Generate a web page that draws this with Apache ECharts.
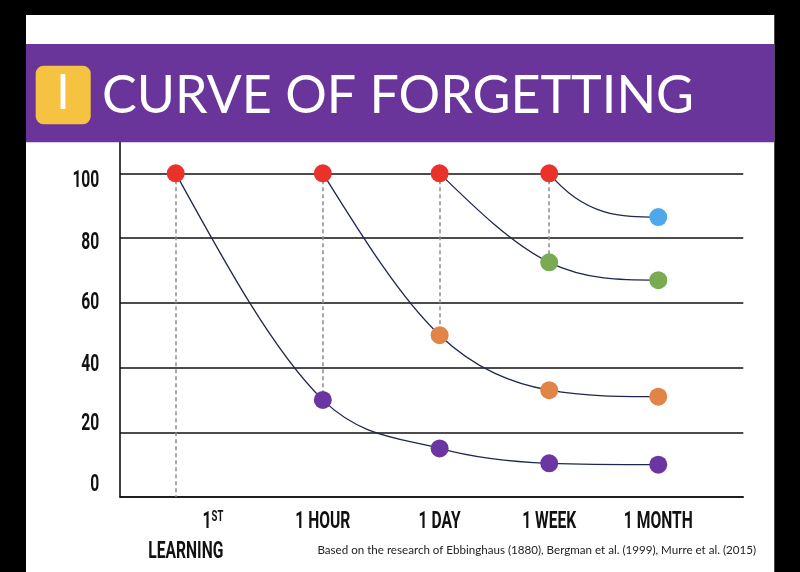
<!DOCTYPE html>
<html>
<head>
<meta charset="utf-8">
<title>Curve of Forgetting</title>
<style>
  html, body { margin: 0; padding: 0; background: #000; }
  #main { width: 800px; height: 572px; }
</style>
<script src="https://cdn.jsdelivr.net/npm/echarts@6/dist/echarts.min.js"></script>
</head>
<body>
<div id="main"></div>
<script>
// data
const timeLabels = ['1ST LEARNING', '1 HOUR', '1 DAY', '1 WEEK', '1 MONTH'];
// where each moment sits along the (non linear) time axis, 0-100
const timePos = [8.94, 32.54, 51.28, 68.86, 86.36];
const yTicks = [0, 20, 40, 60, 80, 100];

// recall (%) after each review, starting at the review moment
const purpleRecall = [100, 30, 15, 10.4, 10];
const orangeRecall = [100, 50, 33, 31];
const greenRecall = [100, 72.5, 67];
const blueRecall = [100, 86.5];
const curveStart = [0, 1, 2, 3];

// styling
const curveColors = ['#6b36a2', '#e08547', '#7aab52', '#4da9e9'];
const reviewColor = '#e8322a';
const labelFont = "Roboto, 'DejaVu Sans Condensed', sans-serif";
const labelScale = 0.68;   // squeeze the bold labels into a condensed look
// the tick labels in the picture drift a little from their gridlines
const yLabelShift = { 0: -12, 20: -8, 40: -2.6, 60: 0.7, 80: 5.5, 100: 8 };

const curves = [purpleRecall, orangeRecall, greenRecall, blueRecall].map((values, i) => ({
  values: values,
  start: curveStart[i],
  color: curveColors[i]
}));

var myChart = echarts.init(document.getElementById('main'));

// smooth decay curve through the points of one curve (monotone hermite -> bezier)
function renderCurve(params, api) {
  const c = curves[params.dataIndex];
  const pts = c.values.map((v, k) => api.coord([timePos[c.start + k], v]));
  const n = pts.length;
  const d = [];
  for (let k = 0; k < n - 1; k++) {
    d.push((pts[k + 1][1] - pts[k][1]) / (pts[k + 1][0] - pts[k][0]));
  }
  const m = new Array(n).fill(0);
  for (let k = 1; k < n - 1; k++) {
    m[k] = Math.min((d[k - 1] + d[k]) / 2, 3 * Math.min(d[k - 1], d[k]));
  }
  m[0] = n > 2 ? (3 * d[0] - m[1]) / 2 : 3 * d[0];
  const children = [];
  for (let k = 0; k < n - 1; k++) {
    const h = (pts[k + 1][0] - pts[k][0]) / 3;
    children.push({
      type: 'bezierCurve',
      shape: {
        x1: pts[k][0], y1: pts[k][1],
        cpx1: pts[k][0] + h, cpy1: pts[k][1] + m[k] * h,
        cpx2: pts[k + 1][0] - h, cpy2: pts[k + 1][1] - m[k + 1] * h,
        x2: pts[k + 1][0], y2: pts[k + 1][1]
      },
      style: { fill: null, stroke: '#1e2652', lineWidth: 1.3 }
    });
  }
  return { type: 'group', children: children };
}

// dashed drop from every review down to the curve it refreshes
const drops = curves.map((c, k) => {
  const x = timePos[c.start];
  let bottom = 0;
  if (k > 0) {
    const prev = curves[k - 1];
    bottom = prev.values[c.start - prev.start];
  }
  return [{ coord: [x, c.values[0]] }, { coord: [x, bottom] }];
});

const frame = [
  { type: 'rect', z: 100, shape: { x: 0, y: 0, width: 800, height: 15 }, style: { fill: '#000' } },
  { type: 'rect', z: 100, shape: { x: 0, y: 0, width: 26, height: 572 }, style: { fill: '#000' } },
  { type: 'rect', z: 100, shape: { x: 774.3, y: 0, width: 26, height: 572 }, style: { fill: '#000' } },
  { type: 'rect', z: 100, shape: { x: 26, y: 44, width: 748.3, height: 98.3 }, style: { fill: '#69359a' } },
  { type: 'rect', z: 101, shape: { x: 35.7, y: 65.7, width: 55, height: 58.6, r: 8 }, style: { fill: '#f5c242' } },
  {
    type: 'text', z: 102, x: 63, y: 94,
    style: { text: 'I', fill: '#fff', font: "48px Lato, 'Open Sans', sans-serif", align: 'center', verticalAlign: 'middle' }
  },
  {
    type: 'text', z: 102, x: 102, y: 96,
    style: { text: 'CURVE OF FORGETTING', fill: '#fff', font: "52px Lato, 'Open Sans', sans-serif", align: 'left', verticalAlign: 'middle' }
  },
  {
    type: 'text', z: 102, x: 756, y: 550,
    style: {
      text: 'Based on the research of Ebbinghaus (1880), Bergman et al. (1999), Murre et al. (2015)',
      fill: '#222', font: "11.6px Lato, 'Open Sans', sans-serif", align: 'right', verticalAlign: 'middle'
    }
  }
];

const option = {
  backgroundColor: '#fff',
  animation: false,
  grid: { left: 120, right: 56.7, top: 141, bottom: 75 },
  xAxis: {
    type: 'value',
    min: 0,
    max: 100,
    splitLine: { show: false },
    axisTick: { show: false },
    axisLabel: { show: false },
    axisLine: { lineStyle: { color: '#111', width: 1.6 } }
  },
  yAxis: {
    type: 'value',
    min: 0,
    max: 110,
    interval: 20,
    axisTick: { show: false },
    axisLabel: { show: false },
    axisLine: { show: true, lineStyle: { color: '#111', width: 1.6 } },
    splitLine: { lineStyle: { color: '#111', width: 1.6 } }
  },
  graphic: frame,
  series: [
    {
      name: 'drops',
      type: 'line',
      data: [],
      z: 1,
      markLine: {
        silent: true,
        symbol: ['none', 'none'],
        label: { show: false },
        lineStyle: { type: [4, 3], color: '#8c8c8c', width: 1.5 },
        data: drops
      }
    },
    {
      name: 'curves',
      type: 'custom',
      z: 3,
      renderItem: renderCurve,
      data: curves.map(c => [timePos[c.start], c.values[0]])
    },
    {
      name: 'reviews',
      type: 'scatter',
      z: 5,
      symbolSize: 18,
      itemStyle: { color: reviewColor, opacity: 1 },
      data: curves.map(c => [timePos[c.start], c.values[0]])
    }
  ].concat(curves.map(c => ({
    name: 'recall',
    type: 'scatter',
    z: 5,
    symbolSize: 18,
    itemStyle: { color: c.color, opacity: 1 },
    data: c.values.slice(1).map((v, k) => [timePos[c.start + k + 1], v])
  })))
};

myChart.setOption(option);

// tick labels in a squeezed bold face, placed through the axes
const axisX = myChart.convertToPixel({ xAxisIndex: 0 }, 0);
const axisY = myChart.convertToPixel({ yAxisIndex: 0 }, 0);
const boldText = { fill: '#111', fontFamily: labelFont, fontWeight: 'bold', fontSize: 23 };

const labels = [];
timePos.forEach((p, i) => {
  const px = myChart.convertToPixel({ xAxisIndex: 0 }, p);
  if (i === 0) {
    labels.push({
      type: 'text', z: 10, x: px + 47.6, y: axisY + 25, scaleX: labelScale,
      style: {
        text: '{n|1}{s|ST}', align: 'right', verticalAlign: 'middle',
        rich: {
          n: Object.assign({}, boldText, { lineHeight: 24 }),
          s: Object.assign({}, boldText, { fontSize: 14, lineHeight: 18, verticalAlign: 'top' })
        }
      }
    });
    labels.push({
      type: 'text', z: 10, x: px + 47.6, y: axisY + 55, scaleX: labelScale,
      style: Object.assign({ text: 'LEARNING', align: 'right', verticalAlign: 'middle' }, boldText)
    });
  } else {
    labels.push({
      type: 'text', z: 10, x: px, y: axisY + 25, scaleX: labelScale,
      style: Object.assign({ text: timeLabels[i], align: 'center', verticalAlign: 'middle' }, boldText)
    });
  }
});
yTicks.forEach(v => {
  const py = myChart.convertToPixel({ yAxisIndex: 0 }, v);
  labels.push({
    type: 'text', z: 10, x: axisX - 20.7, y: py + yLabelShift[v], scaleX: labelScale,
    style: Object.assign({ text: String(v), align: 'right', verticalAlign: 'middle' }, boldText)
  });
});

myChart.setOption({ graphic: frame.concat(labels) });
</script>
</body>
</html>
